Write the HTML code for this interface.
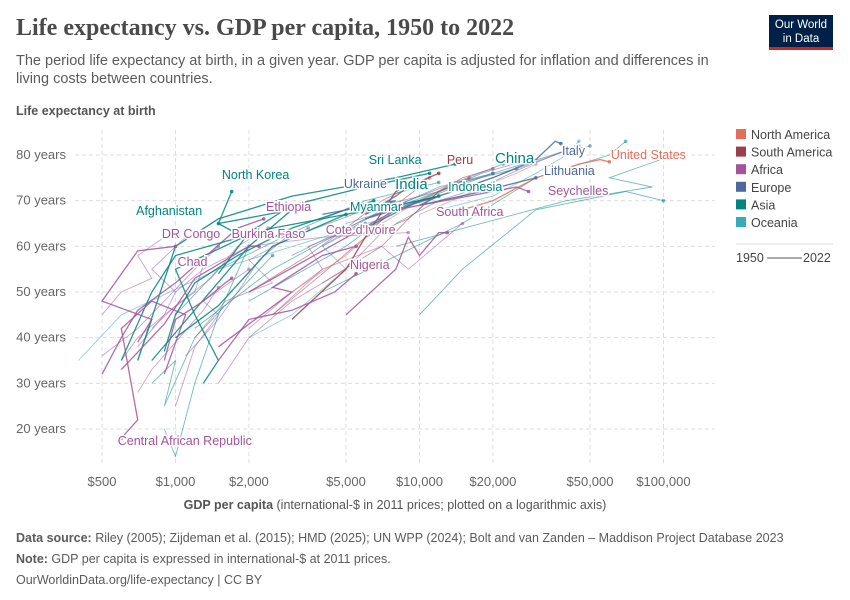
<!DOCTYPE html>
<html><head><meta charset="utf-8">
<style>
body{margin:0;width:850px;height:600px;background:#fff;font-family:"Liberation Sans",sans-serif;overflow:hidden;position:relative}
.t{position:absolute}
</style></head><body>
<div class="t" style="left:16px;top:15px;font-family:'Liberation Serif',serif;font-size:24px;font-weight:bold;color:#4a4a4a;">Life expectancy vs. GDP per capita, 1950 to 2022</div>
<div class="t" style="left:16px;top:52px;width:720px;font-size:14.5px;line-height:18px;color:#5b5b5b;">The period life expectancy at birth, in a given year. GDP per capita is adjusted for inflation and differences in living costs between countries.</div>
<div class="t" style="left:769px;top:15px;width:64px;height:35px;background:#002147;border-bottom:3px solid #ce261e;color:#fff;font-size:11.5px;line-height:14px;text-align:center;padding-top:3px;box-sizing:border-box;">Our World<br>in Data</div>
<svg id="c" width="850" height="600" style="position:absolute;left:0;top:0"></svg>
<div class="t" style="left:16px;top:528px;font-size:12.5px;color:#5b5b5b;line-height:21px;"><b>Data source:</b> Riley (2005); Zijdeman et al. (2015); HMD (2025); UN WPP (2024); Bolt and van Zanden – Maddison Project Database 2023<br><b>Note:</b> GDP per capita is expressed in international-$ at 2011 prices.<br>OurWorldinData.org/life-expectancy | CC BY</div>
<script>
const xTicks=[500,1000,2000,5000,10000,20000,50000,100000];
const xTickLabels=["$500","$1,000","$2,000","$5,000","$10,000","$20,000","$50,000","$100,000"];
const yTicks=[20,30,40,50,60,70,80];
const continents=["North America","South America","Africa","Europe","Asia","Oceania"];
const contColors=["#e56e5a","#9a3f4b","#a2559c","#4c6a9c","#00847e","#38aaba"];
const seriesNames=["United States","China","India","Italy","Lithuania","Sri Lanka","Peru","North Korea","Ukraine","Indonesia","Seychelles","Afghanistan","Ethiopia","Myanmar","South Africa","DR Congo","Burkina Faso","Cote d'Ivoire","Chad","Nigeria","Central African Republic"];
const seriesCont=[0,4,4,3,3,4,1,4,3,4,2,4,2,4,2,2,2,2,2,2,2];
const seriesPts=[
[[15000,68],[20000,70],[30000,75],[45000,78],[55000,79],[60000,78.5]],
[[800,44],[700,35],[1000,60],[1500,66],[3000,71],[8000,75],[14000,78]],
[[900,37],[1000,45],[1200,52],[1800,58],[3000,64],[5000,68],[6500,70]],
[[6000,66],[12000,71],[20000,75],[30000,79],[36000,83],[38000,82.5]],
[[6000,64],[10000,70],[12000,71],[10000,69],[18000,72],[30000,75]],
[[1500,54],[2000,63],[3000,69],[6000,73],[11000,76]],
[[3000,44],[5000,55],[6000,62],[8000,72],[12000,76]],
[[800,35],[2000,60],[3000,68],[1500,65],[1700,72]],
[[4000,67],[8000,70],[6000,67],[8000,71],[9000,73]],
[[1000,40],[1500,47],[2500,60],[5000,67],[10000,70],[12000,71]],
[[2000,50],[8000,68],[20000,72],[25000,73],[28000,72]],
[[1300,30],[1500,35],[1200,45],[1000,55],[1900,62],[1500,65]],
[[500,32],[600,40],[700,46],[1000,52],[1800,64],[2300,66]],
[[600,35],[800,50],[1000,58],[2500,64],[5000,67]],
[[5000,45],[8000,55],[9000,62],[10000,58],[12000,63],[13000,63]],
[[700,39],[800,44],[500,48],[700,59],[1000,60]],
[[600,33],[900,43],[1200,53],[2000,60],[2200,60]],
[[1500,38],[3000,50],[2500,51],[4000,58],[5500,60]],
[[900,35],[1000,44],[1300,48],[1600,52],[1700,53]],
[[1500,35],[2000,44],[3000,46],[4500,50],[5500,54]],
[[900,32],[1100,45],[800,48],[600,42],[700,22],[600,18]]
];
const labelGdp=[60900,20400,7950,38400,32400,6200,12950,1550,4900,13100,33600,690,2350,5190,11700,880,1700,4130,1020,5190,580];
const labelLe=[79.1,78.2,72.6,80,75.6,78,78,74.7,72.8,72.1,71.2,66.9,67.7,67.7,66.6,61.8,61.8,62.7,55.7,55,16.5];
const bgCont=[2,2,2,2,2,2,2,2,4,4,4,4,4,3,3,3,3,1,1,1,0,0,5,5,2,2,4,3,1,2,2,4,3,2,4,5];
const bgPts=[
[[500,36],[700,42],[900,48],[1200,55],[1500,60]],
[[700,38],[900,45],[1000,50],[800,55],[1100,62]],
[[1100,36],[1500,44],[1800,50],[2200,57],[3000,63]],
[[1200,40],[1600,48],[2500,52],[2000,57],[3500,64]],
[[2000,42],[3000,50],[4000,55],[3500,60],[6000,65]],
[[600,35],[700,40],[900,45],[1200,50],[1300,56]],
[[800,42],[1000,47],[1400,53],[1800,60],[2400,64]],
[[2500,45],[4000,55],[7000,60],[9000,55],[15000,65]],
[[1000,45],[1500,55],[3000,63],[6000,70],[12000,74]],
[[1200,42],[2500,55],[6000,66],[15000,74],[25000,77]],
[[4000,50],[15000,65],[30000,75],[60000,80],[70000,83]],
[[8000,60],[40000,70],[90000,73],[60000,75],[110000,80]],
[[2000,48],[5000,60],[8000,68],[15000,74],[20000,76]],
[[5000,65],[10000,70],[20000,76],[35000,80],[45000,82]],
[[3000,62],[6000,68],[12000,72],[18000,76],[28000,79]],
[[7000,68],[14000,72],[25000,77],[40000,81],[50000,82]],
[[4000,60],[7000,68],[9000,70],[12000,73],[20000,76]],
[[4000,52],[7000,60],[9000,66],[12000,72],[16000,75]],
[[2500,45],[4000,54],[6000,62],[8000,69],[10000,73]],
[[6000,62],[9000,66],[12000,72],[15000,75],[20000,77]],
[[10000,67],[15000,71],[20000,74],[25000,76],[30000,78]],
[[3000,50],[5000,58],[7000,65],[10000,70],[14000,74]],
[[12000,68],[20000,71],[30000,76],[40000,80],[45000,83]],
[[2000,40],[3000,45],[5000,55],[4000,60],[6000,65]],
[[1000,25],[1200,38],[1500,45],[1300,48],[2000,55]],
[[500,45],[600,50],[800,53],[700,58],[900,62]],
[[800,30],[1000,35],[900,25],[1200,40],[2500,58]],
[[3000,58],[6000,66],[9000,70],[14000,74],[22000,78]],
[[2000,50],[3500,58],[5000,64],[7000,70],[11000,75]],
[[1000,50],[1300,55],[2000,60],[4000,62],[9000,63]],
[[1500,30],[2000,40],[3000,48],[5000,55],[7000,63]],
[[10000,45],[15000,55],[30000,68],[70000,72],[100000,70]],
[[8000,65],[12000,70],[18000,73],[26000,77],[40000,81]],
[[700,28],[800,33],[1000,39],[1300,46],[1500,51]],
[[900,20],[1000,14],[1200,30],[1500,45],[2000,60]],
[[400,35],[600,45],[1500,55],[4000,62],[7000,66]]
];
const svg=document.getElementById('c');const NS='http://www.w3.org/2000/svg';
const X0=75,X1=715,Y0=130,Y1=466;
const xs=v=>346+244*Math.log10(v/5000);
const ys=v=>429-(v-20)*(274/60);
function mk(t,a,p){const e=document.createElementNS(NS,t);for(const k in a)e.setAttribute(k,a[k]);(p||svg).appendChild(e);return e;}
yTicks.forEach(v=>{
const l=mk('line',{x1:X0,x2:X1,y1:ys(v),y2:ys(v),stroke:'#ddd','stroke-dasharray':'4,3'});


});
xTicks.forEach((v,i)=>{
const l=mk('line',{x1:xs(v),x2:xs(v),y1:Y0,y2:Y1,stroke:'#ddd','stroke-dasharray':'4,3'});


const t=mk('text',{x:xs(v),y:486,'text-anchor':'middle','font-size':13,fill:'#666'});t.textContent=xTickLabels[i];


});
function line(pts,col,w,op,name){
const d=pts.map((p,i)=>(i?'L':'M')+xs(p[0]).toFixed(1)+','+ys(p[1]).toFixed(1)).join('');
const g=mk('path',{d:d,fill:'none',stroke:col,'stroke-width':w,'stroke-opacity':op});


const e=pts[pts.length-1];
const c=mk('circle',{cx:xs(e[0]),cy:ys(e[1]),r:1.8,fill:col,'fill-opacity':op});


}
bgPts.forEach((p,i)=>line(p,contColors[bgCont[i]],0.9,0.55,'country-line'));
seriesPts.forEach((p,i)=>line(p,contColors[seriesCont[i]],1.3,0.85,'line-'+seriesNames[i].toLowerCase().replace(/[^a-z]+/g,'-')));
yTicks.forEach(v=>{
const t=mk('text',{x:66,y:ys(v)+4,'text-anchor':'end','font-size':13,fill:'#666',stroke:'#fff','stroke-width':3,'paint-order':'stroke'});t.textContent=v+' years';


});
seriesNames.forEach((n,i)=>{
const big=(n=='China'||n=='India');
const t=mk('text',{x:xs(labelGdp[i]),y:ys(labelLe[i]),'text-anchor':'start','font-size':big?15:12.5,fill:contColors[seriesCont[i]],stroke:'#fff','stroke-width':3,'paint-order':'stroke'});
t.textContent=n;


});
const yt=mk('text',{x:16,y:115,'font-size':12.5,'font-weight':'bold',fill:'#555'});yt.textContent='Life expectancy at birth';


const xt=mk('text',{x:395,y:509,'text-anchor':'middle','font-size':12.5,fill:'#555'});
xt.innerHTML='<tspan font-weight="bold">GDP per capita</tspan> (international-$ in 2011 prices; plotted on a logarithmic axis)';


continents.forEach((n,i)=>{
const y=138+i*17.6;
const r=mk('rect',{x:736,y:y-9,width:10,height:10,fill:contColors[i]});


const t=mk('text',{x:751,y:y+1,'font-size':12.5,fill:'#444'});t.textContent=n;


});
const sep=mk('line',{x1:736,x2:833,y1:244,y2:244,stroke:'#ddd'});


const t1=mk('text',{x:736,y:262,'font-size':12.5,fill:'#444'});t1.textContent='1950';


const tl=mk('path',{d:'M767,258 L802,258',stroke:'#555','stroke-width':1});


const t2=mk('text',{x:803,y:262,'font-size':12.5,fill:'#444'});t2.textContent='2022';


</script>
</body></html>
